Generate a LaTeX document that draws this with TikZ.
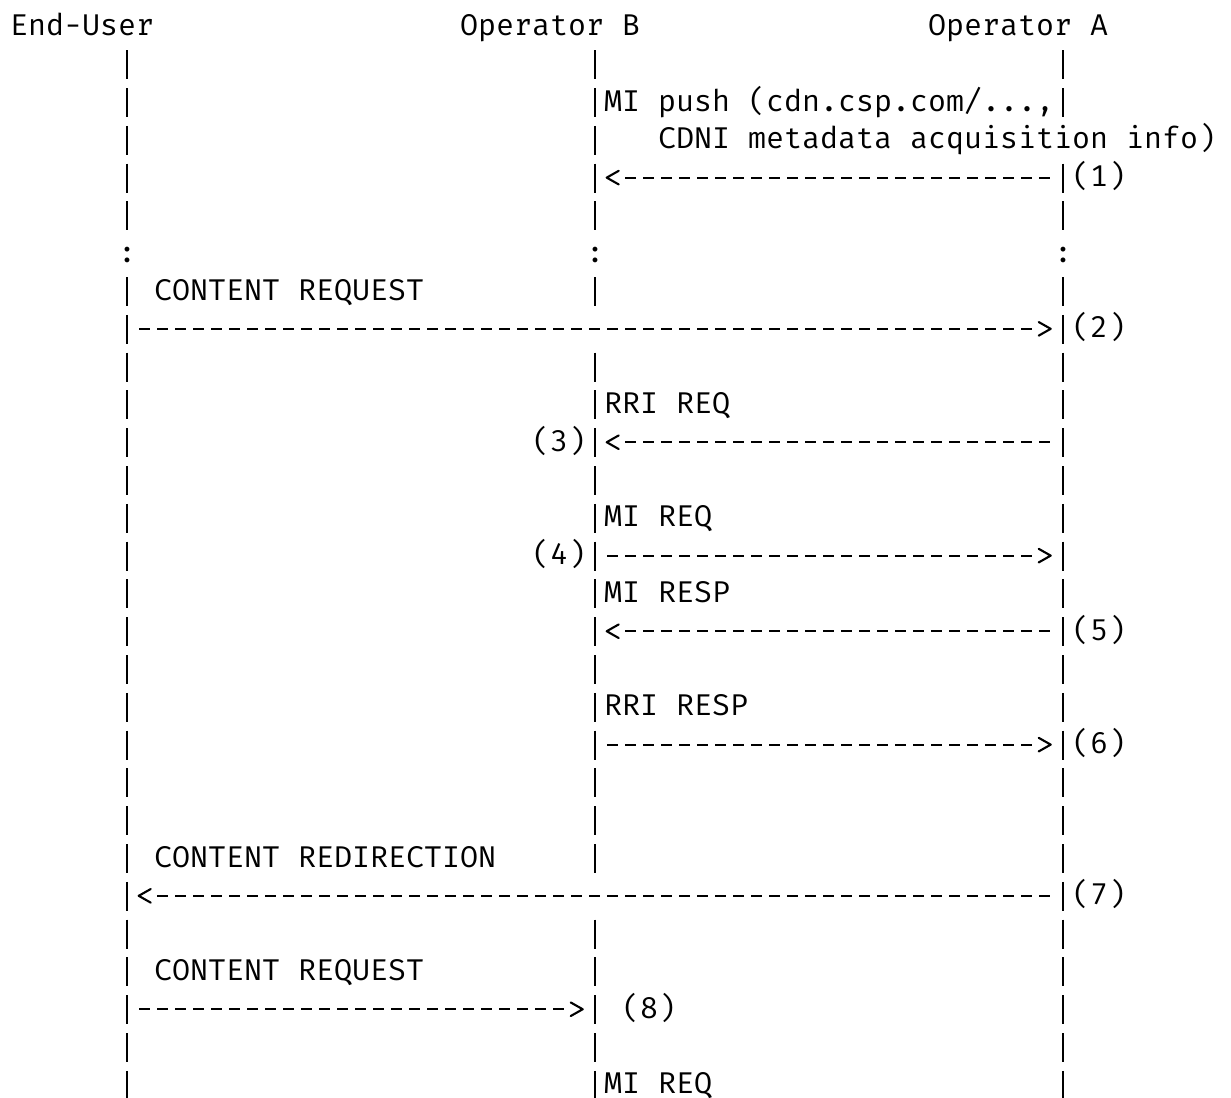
\documentclass[tikz,border=0pt]{standalone}
\usepackage{fontspec}
\newfontfamily\asciifont{Fira Mono}
\usetikzlibrary{calc}

\tikzset{
  ascii/.style    = {font=\asciifont\fontsize{15pt}{18.9pt}\selectfont,
                     inner sep=0pt, anchor=base west},
  actor/.style    = {ascii},
  lifeline/.style = {line width=1.2pt, dash pattern=on 14.5pt off 4.4pt},
  msgline/.style  = {line width=1.05pt, dash pattern=on 5.6pt off 3.4pt},
  msghead/.style  = {line width=1.05pt, line join=round, line cap=round},
}

% one lifeline, drawn as a run of bars from row #2 to row #3
\newcommand{\liferun}[3]{%
  \draw[lifeline] ($(#1 |- r#2)+(0,11.5pt)$) -- ($(#1 |- r#3)+(0,-3pt)$);}
% message pointing left: head on #1, tail on #2, in row #3
\newcommand{\msgleft}[3]{%
  \draw[msgline] ($(#1 |- r#3)+(15.2pt,4.5pt)$) -- ($(#2 |- r#3)+(-6.2pt,4.5pt)$);
  \draw[msghead] ($(#1 |- r#3)+(12pt,7.9pt)$) -- ($(#1 |- r#3)+(6pt,4.5pt)$)
                 -- ($(#1 |- r#3)+(12pt,1.1pt)$);}
% message pointing right: tail on #1, head on #2, in row #3
\newcommand{\msgright}[3]{%
  \draw[msgline] ($(#1 |- r#3)+(6.2pt,4.5pt)$) -- ($(#2 |- r#3)+(-15.2pt,4.5pt)$);
  \draw[msghead] ($(#2 |- r#3)+(-12pt,7.9pt)$) -- ($(#2 |- r#3)+(-6pt,4.5pt)$)
                 -- ($(#2 |- r#3)+(-12pt,1.1pt)$);}

\begin{document}
\begin{tikzpicture}[x=9pt, y={(0,-18.9pt)}]

\path[use as bounding box] (-0.539,-0.937) rectangle (67.85,28.085);

% rows (baselines), one per line of the chart
\foreach \r in {0,...,28} \coordinate (r\r) at (0,\r);

% ------------------------------------------------------------ actors
\node[actor] (eu)  at (0,0)  {End-User};
\node[actor] (opb) at (25,0) {Operator B};
\node[actor] (opa) at (51,0) {Operator A};

\coordinate (lu) at ($(eu.base west)+(58.5pt,0)$);
\coordinate (lb) at ($(opb.base west)+(67.5pt,0)$);
\coordinate (la) at ($(opa.base west)+(67.5pt,0)$);

% ------------------------------------------------------------ lifelines
\liferun{lu}{1}{5}  \liferun{lu}{7}{28}
\liferun{lb}{1}{5}  \liferun{lb}{7}{7}  \liferun{lb}{9}{22}  \liferun{lb}{24}{28}
\liferun{la}{1}{2}  \liferun{la}{4}{5}  \liferun{la}{7}{28}

\node[ascii] (cu) at (6,6)  {:};
\node[ascii] (cb) at (32,6) {:};
\node[ascii] (ca) at (58,6) {:};

% ------------------------------------------------------------ messages
% (1) metadata push
\node[ascii] (push1) at (33,2) {MI push (cdn.csp.com/...,};
\node[ascii] (push2) at (36,3) {CDNI metadata acquisition info)};
\msgleft{lb}{la}{4}
\node[ascii] (n1) at (59,4) {(1)};

% (2) content request
\node[ascii] (creq1) at (8,7) {CONTENT REQUEST};
\msgright{lu}{la}{8}
\node[ascii] (n2) at (59,8) {(2)};

% (3) RRI request
\node[ascii] (rrireq) at (33,10) {RRI REQ};
\msgleft{lb}{la}{11}
\node[ascii] (n3) at (29,11) {(3)};

% (4) MI request
\node[ascii] (mireq1) at (33,13) {MI REQ};
\msgright{lb}{la}{14}
\node[ascii] (n4) at (29,14) {(4)};

% (5) MI response
\node[ascii] (miresp) at (33,15) {MI RESP};
\msgleft{lb}{la}{16}
\node[ascii] (n5) at (59,16) {(5)};

% (6) RRI response
\node[ascii] (rriresp) at (33,18) {RRI RESP};
\msgright{lb}{la}{19}
\node[ascii] (n6) at (59,19) {(6)};

% (7) redirection
\node[ascii] (redir) at (8,22) {CONTENT REDIRECTION};
\msgleft{lu}{la}{23}
\node[ascii] (n7) at (59,23) {(7)};

% (8) content request to Operator B
\node[ascii] (creq2) at (8,25) {CONTENT REQUEST};
\msgright{lu}{lb}{26}
\node[ascii] (n8) at (34,26) {(8)};

\node[ascii] (mireq2) at (33,28) {MI REQ};

\end{tikzpicture}
\end{document}
